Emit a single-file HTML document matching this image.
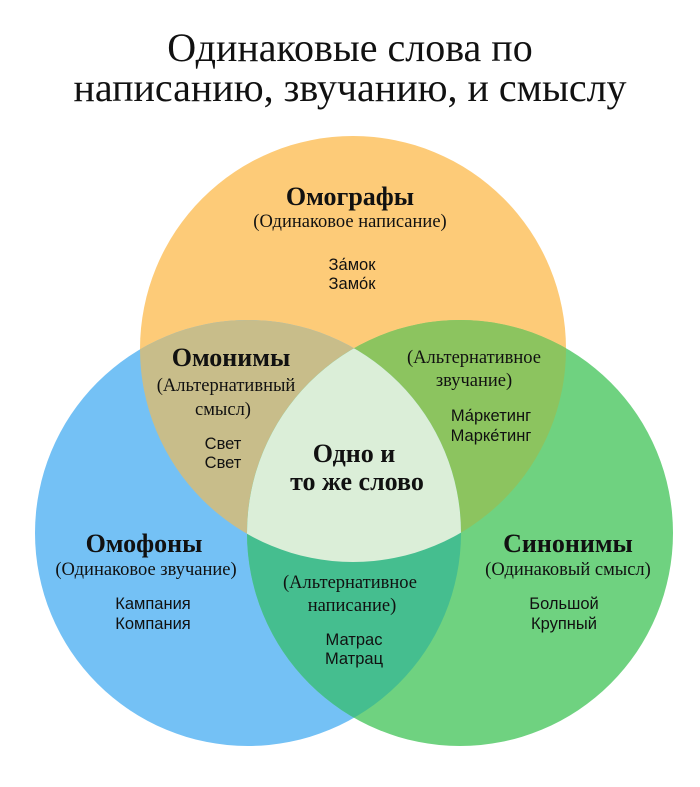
<!DOCTYPE html>
<html><head><meta charset="utf-8"><style>
html,body{margin:0;padding:0;background:#fff;width:700px;height:787px;overflow:hidden}
svg text{font-family:"Liberation Serif",serif;fill:#111}
.s{font-family:"Liberation Sans",sans-serif}
</style></head><body>
<svg width="700" height="787" viewBox="0 0 700 787" xmlns="http://www.w3.org/2000/svg">
<defs>
<clipPath id="cT"><circle cx="353" cy="349" r="213"/></clipPath>
<clipPath id="cL"><circle cx="248" cy="533" r="213"/></clipPath>
<clipPath id="cR"><circle cx="460" cy="533" r="213"/></clipPath>
</defs>
<circle cx="353" cy="349" r="213" fill="#fdcb78"/>
<circle cx="248" cy="533" r="213" fill="#74c1f5"/>
<circle cx="460" cy="533" r="213" fill="#6fd280"/>
<g clip-path="url(#cT)"><circle cx="248" cy="533" r="213" fill="#c8bd8a"/><circle cx="460" cy="533" r="213" fill="#8cc45f"/></g>
<g clip-path="url(#cL)"><circle cx="460" cy="533" r="213" fill="#45be8f"/></g>
<g clip-path="url(#cL)"><g clip-path="url(#cR)"><circle cx="353" cy="349" r="213" fill="#dbeed8"/></g></g>
<g text-anchor="middle">
<text x="350" y="61" font-size="40">Одинаковые слова по</text>
<text x="350" y="101" font-size="40">написанию, звучанию, и смыслу</text>
<text x="350" y="205" font-size="26" font-weight="bold">Омографы</text>
<text x="350" y="227" font-size="18.5">(Одинаковое написание)</text>
<text class="s" x="352" y="270" font-size="16.5">За́мок</text>
<text class="s" x="352" y="289" font-size="16.5">Замо́к</text>
<text x="231" y="366" font-size="26" font-weight="bold">Омонимы</text>
<text x="226" y="391" font-size="18.5">(Альтернативный</text>
<text x="223" y="415" font-size="18.5">смысл)</text>
<text class="s" x="223" y="449" font-size="16.5">Свет</text>
<text class="s" x="223" y="468" font-size="16.5">Свет</text>
<text x="474" y="363" font-size="18.5">(Альтернативное</text>
<text x="474" y="386" font-size="18.5">звучание)</text>
<text class="s" x="491" y="421" font-size="16.5">Ма́ркетинг</text>
<text class="s" x="491" y="441" font-size="16.5">Марке́тинг</text>
<text x="354" y="462" font-size="26" font-weight="bold">Одно и</text>
<text x="357" y="490" font-size="26" font-weight="bold">то же слово</text>
<text x="144" y="552" font-size="26" font-weight="bold">Омофоны</text>
<text x="146" y="575" font-size="18.5">(Одинаковое звучание)</text>
<text class="s" x="153" y="609" font-size="16.5">Кампания</text>
<text class="s" x="153" y="629" font-size="16.5">Компания</text>
<text x="568" y="552" font-size="26" font-weight="bold">Синонимы</text>
<text x="568" y="575" font-size="18.5">(Одинаковый смысл)</text>
<text class="s" x="564" y="609" font-size="16.5">Большой</text>
<text class="s" x="564" y="629" font-size="16.5">Крупный</text>
<text x="350" y="588" font-size="18.5">(Альтернативное</text>
<text x="352" y="611" font-size="18.5">написание)</text>
<text class="s" x="354" y="645" font-size="16.5">Матрас</text>
<text class="s" x="354" y="664" font-size="16.5">Матрац</text>
</g>
</svg>
</body></html>
